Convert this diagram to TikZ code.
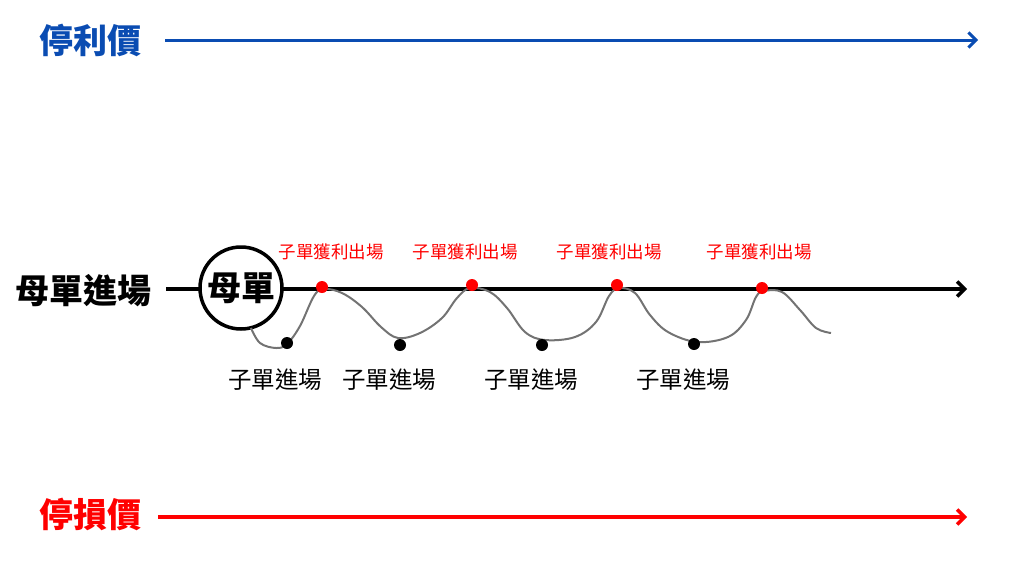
\documentclass[tikz,border=0pt]{standalone}
\usepackage{fontspec}
\setmainfont{Noto Sans CJK TC}
\usetikzlibrary{arrows.meta}
\definecolor{myblue}{rgb}{0.04,0.30,0.70}
\definecolor{myred}{rgb}{1.0,0.0,0.0}
\definecolor{mygray}{gray}{0.45}

\begin{document}
\begin{tikzpicture}[x=1pt,y=-1pt,
every node/.style={inner sep=0pt},
bigtext/.style={font=\fontsize{34}{34}\selectfont\bfseries},
exittext/.style={font=\fontsize{17.5}{18}\selectfont, myred},
entrytext/.style={font=\fontsize{23.5}{24}\selectfont},
line/.style={line width=3.5pt, -{Straight Barb[length=7.5pt,width=15pt]}},
exitdot/.style={circle, fill=myred, minimum size=12pt},
entrydot/.style={circle, fill=black, minimum size=12pt}]
\useasboundingbox (0,0) rectangle (1024,576);
\node[bigtext, myblue] (tp) at (90,40) {停利價};
\node[bigtext, myred] (sl) at (90,514) {停損價};
\node[bigtext] (mj) at (83,291) {母單進場};
\coordinate (tpend) at (978,40);
\coordinate (slend) at (967,517);
\coordinate (mjend) at (967,289);
\draw[line, myblue, line width=3pt] ([xshift=24pt]tp.east |- tpend) -- (tpend);
\draw[line, myred] ([xshift=17pt]sl.east |- slend) -- (slend);
\draw[line] ([xshift=15pt]mj.east |- mjend) -- (mjend);
\node[bigtext, circle, draw, line width=3.5pt, fill=white, minimum size=82pt] (mo) at (241,288) {母單};
\draw[mygray, line width=2pt] plot[smooth, tension=0.6] coordinates {
(251,328) (260,343) (276,348) (287,344) (300,326) (314,296) (324,289)
(342,293) (362,307) (381,327) (398,338) (420,333) (442,318) (457,298) (470,288)
(490,292) (507,308) (525,332) (545,340) (575,337) (596,322) (609,296) (619,288)
(635,293) (650,315) (668,332) (697,342) (728,337) (746,320) (756,297) (764,291)
(782,292) (800,310) (816,328) (831,333)};
\foreach \n/\x/\y in {1/322/287, 2/472/285, 3/617/285, 4/762/288}
  \node[exitdot] (out\n) at (\x,\y) {};
\foreach \n/\x/\y in {1/287/343, 2/400/345, 3/542/345, 4/694/344}
  \node[entrydot] (in\n) at (\x,\y) {};
\foreach \n/\x in {1/331, 2/465, 3/609, 4/759}
  \node[exittext] (outlbl\n) at (\x,252) {子單獲利出場};
\foreach \n/\x in {1/275, 2/389, 3/531, 4/683}
  \node[entrytext] (inlbl\n) at (\x,380) {子單進場};
\end{tikzpicture}
\end{document}
